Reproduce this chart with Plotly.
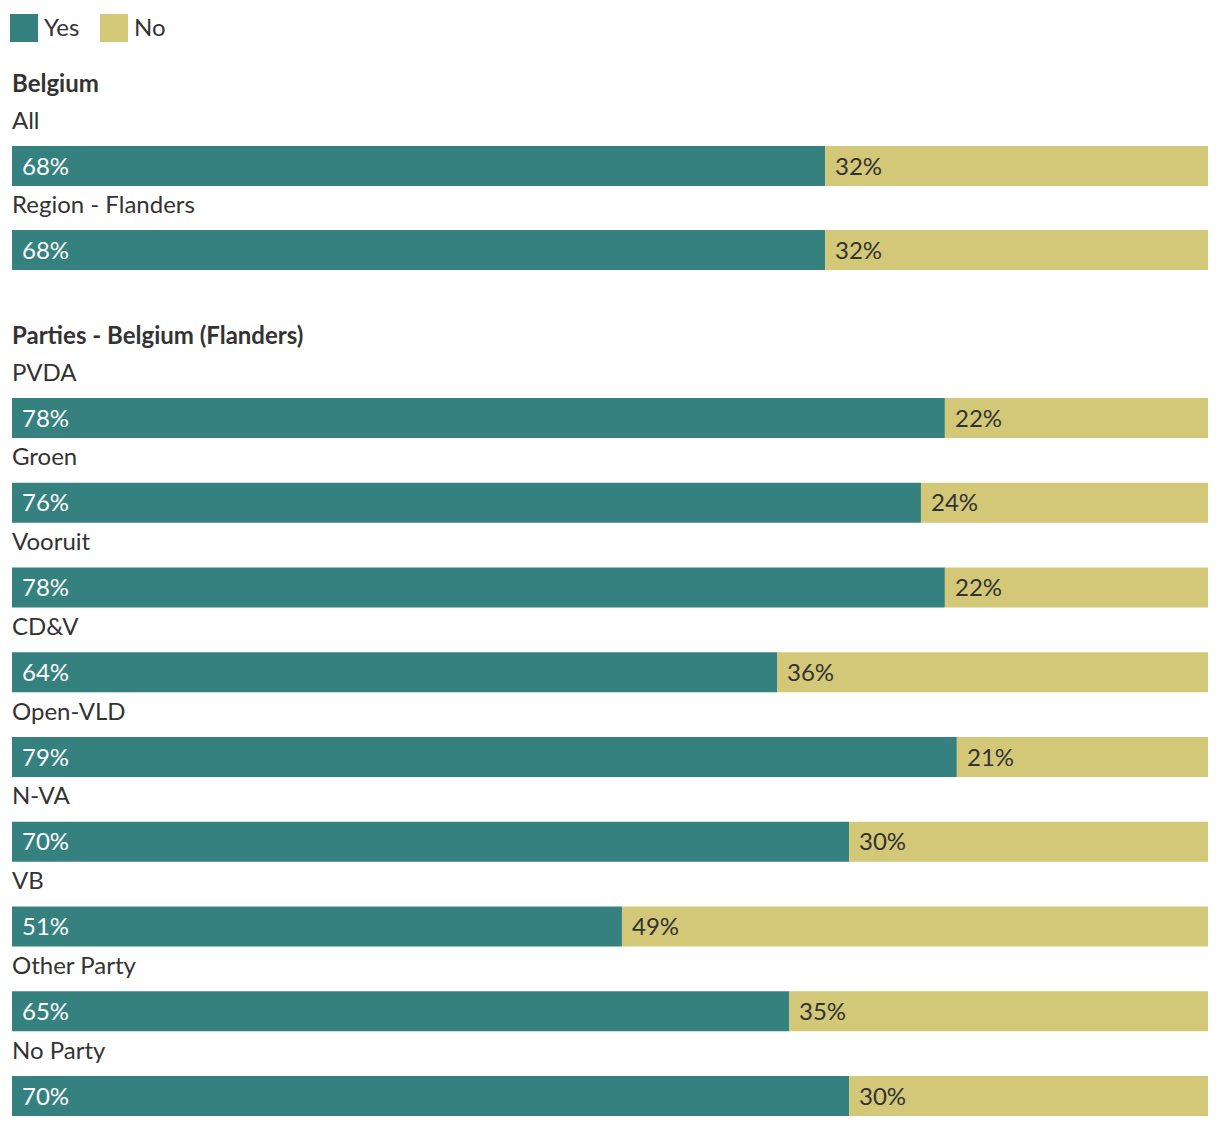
import plotly.graph_objects as go

groups = ["Belgium", "Parties - Belgium (Flanders)"]
group1_categories = ["All", "Region - Flanders"]
group1_yes = [68, 68]
group1_no = [32, 32]
group2_categories = ["PVDA", "Groen", "Vooruit", "CD&V", "Open-VLD", "N-VA", "VB", "Other Party", "No Party"]
group2_yes = [78, 76, 78, 64, 79, 70, 51, 65, 70]
group2_no = [22, 24, 22, 36, 21, 30, 49, 35, 30]
series_names = ["Yes", "No"]

W, H = 1220, 1126
YES_C = "#358180"
NO_C = "#d3c878"
TXT = "#333333"
FONT = "Lato, 'Open Sans', sans-serif"
FS = 24

# layout positions (pixel units on a reversed y axis)
g_title_y = [82, 334]
g_start = [166, 418]
step = 84.75
step1 = 84
bar_h = 40

cats, yes, no, ys = [], [], [], []
for gi, (c_list, y_list, n_list) in enumerate([(group1_categories, group1_yes, group1_no),
                                                (group2_categories, group2_yes, group2_no)]):
    st = step1 if gi == 0 else step
    for i, (c, yv, nv) in enumerate(zip(c_list, y_list, n_list)):
        cats.append(c); yes.append(yv); no.append(nv)
        ys.append(g_start[gi] + i * st)

fig = go.Figure()
fig.add_trace(go.Bar(y=ys, x=yes, orientation="h", width=bar_h, marker=dict(color=YES_C, line_width=0),
                     name=series_names[0], hoverinfo="skip"))
fig.add_trace(go.Bar(y=ys, x=no, base=yes, orientation="h", width=bar_h, marker=dict(color=NO_C, line_width=0),
                     name=series_names[1], hoverinfo="skip"))

ann = []
for c, yv, nv, y in zip(cats, yes, no, ys):
    ann.append(dict(x=0, y=y - 47, xref="x", yref="y", text=c, showarrow=False, xanchor="left", yanchor="middle",
                    xshift=-2, font=dict(size=FS, color=TXT, family=FONT)))
    ann.append(dict(x=0, y=y - 1, xref="x", yref="y", text=f"{yv}%", showarrow=False, xanchor="left", yanchor="middle",
                    xshift=8, font=dict(size=FS, color="white", family=FONT)))
    ann.append(dict(x=yv, y=y - 1, xref="x", yref="y", text=f"{nv}%", showarrow=False, xanchor="left", yanchor="middle",
                    xshift=8, font=dict(size=FS, color=TXT, family=FONT)))
for g, gy in zip(groups, g_title_y):
    ann.append(dict(x=0, y=gy, xref="x", yref="y", text=f"<b>{g}</b>", showarrow=False, xanchor="left",
                    yanchor="middle", xshift=-2, font=dict(size=FS, color=TXT, family=FONT)))

# manual legend
shapes = []
leg_x = [10, 100]
for name, col, lx in zip(series_names, [YES_C, NO_C], leg_x):
    shapes.append(dict(type="rect", xref="paper", yref="y", x0=lx / W, x1=(lx + 28) / W, y0=14, y1=42,
                       fillcolor=col, line_width=0))
    ann.append(dict(x=(lx + 32) / W, y=26, xref="paper", yref="y", text=name, showarrow=False, xanchor="left",
                    yanchor="middle", font=dict(size=FS, color=TXT, family=FONT)))

fig.update_layout(
    width=W, height=H, margin=dict(l=0, r=0, t=0, b=0),
    paper_bgcolor="white", plot_bgcolor="white",
    barmode="overlay", showlegend=False,
    xaxis=dict(range=[0, 100], domain=[12 / W, 1208 / W], visible=False, fixedrange=True),
    yaxis=dict(range=[H, 0], visible=False, fixedrange=True),
    annotations=ann, shapes=shapes,
)
fig.write_html("out.html")
